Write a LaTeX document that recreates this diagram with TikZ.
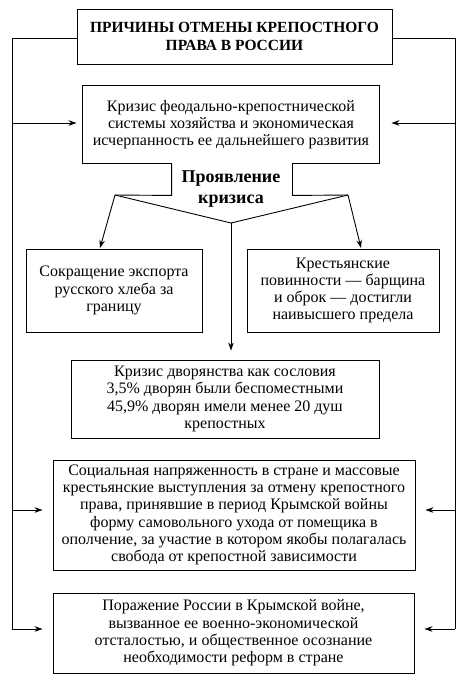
\documentclass[tikz,border=0pt]{standalone}
\usepackage{fontspec}
\setmainfont{Liberation Serif}
\usetikzlibrary{arrows.meta}
\begin{document}
\begin{tikzpicture}[x=1pt,y=-1pt,
  box/.style={draw, line width=0.9pt, inner sep=0pt, align=center, font=\fontsize{16}{17.3}\selectfont},
  arr/.style={-{Stealth[length=8pt,width=5.5pt]}, line width=0.9pt},
  ln/.style={line width=0.9pt}]
\useasboundingbox (0,0) rectangle (468,689);

\node[box, minimum width=315pt, minimum height=55pt, font=\bfseries\fontsize{15.5}{17.5}\selectfont] (title) at (234.5,36.5) {ПРИЧИНЫ ОТМЕНЫ КРЕПОСТНОГО\\ПРАВА В РОССИИ};

\node[box, draw=none, minimum width=296pt, minimum height=77pt] (crisis) at (231,124.5) {Кризис феодально-крепостнической\\системы хозяйства и экономическая\\исчерпанность ее дальнейшего развития};
\draw[ln] ([xshift=89pt]crisis.south west) -- (crisis.south west) -- (crisis.north west) -- (crisis.north east) -- (crisis.south east) -- ([xshift=-87pt]crisis.south east);

\node[font=\bfseries\fontsize{18}{21}\selectfont, align=center, inner sep=0pt] (manif) at (231,189) {Проявление\\кризиса};

\coordinate (fl) at (115,195);
\coordinate (fr) at (348,195);
\coordinate (mid) at (231,223);
\draw[ln] ([xshift=89pt]crisis.south west) -- ++(0,32) -- (fl);
\draw[ln] ([xshift=-87pt]crisis.south east) -- ++(0,32) -- (fr);

\node[box, minimum width=176pt, minimum height=83pt] (export) at (114,290.5) {Сокращение экспорта\\русского хлеба за\\границу};
\node[box, minimum width=192pt, minimum height=83pt] (duties) at (343,290.5) {Крестьянские\\повинности — барщина\\и оброк — достигли\\наивысшего предела};
\node[box, minimum width=308pt, minimum height=78pt] (nobles) at (225,399) {Кризис дворянства как сословия\\3,5\% дворян были беспоместными\\45,9\% дворян имели менее 20 душ\\крепостных};
\node[box, minimum width=362pt, minimum height=110pt] (social) at (234,515) {Социальная напряженность в стране и массовые\\крестьянские выступления за отмену крепостного\\права, принявшие в период Крымской войны\\форму самовольного ухода от помещика в\\ополчение, за участие в котором якобы полагалась\\свобода от крепостной зависимости};
\node[box, minimum width=361pt, minimum height=80pt] (defeat) at (233.5,633) {Поражение России в Крымской войне,\\вызванное ее военно-экономической\\отсталостью, и общественное осознание\\необходимости реформ в стране};

% branching
\draw[arr] (fl) -- (100,248) coordinate (ea);
\draw[arr] (fr) -- (361,248) coordinate (da);
\draw[ln] (fl) -- (mid) -- (fr);
\draw[arr, shorten >=9pt] (mid) -- (mid |- nobles.north);

% side rails
\coordinate (lt) at (12,38);
\coordinate (rt) at (455,38);
\coordinate (lb) at (12,629);
\coordinate (rb) at (455,629);
\coordinate (l1) at (12,123);
\coordinate (r1) at (455,123);
\coordinate (l2) at (12,510);
\coordinate (r2) at (455,510);
\draw[ln] (title.west |- lt) -- (lt) -- (lb);
\draw[ln] (title.east |- rt) -- (rt) -- (rb);
\draw[arr, shorten >=6pt] (l1) -- (crisis.west |- l1);
\draw[arr, shorten >=12pt] (r1) -- (crisis.east |- r1);
\draw[arr, shorten >=10pt] (l2) -- (social.west |- l2);
\draw[arr, shorten >=10pt] (r2) -- (social.east |- r2);
\draw[arr, shorten >=10pt] (lb) -- (defeat.west |- lb);
\draw[arr, shorten >=10pt] (rb) -- (defeat.east |- rb);
\end{tikzpicture}
\end{document}
